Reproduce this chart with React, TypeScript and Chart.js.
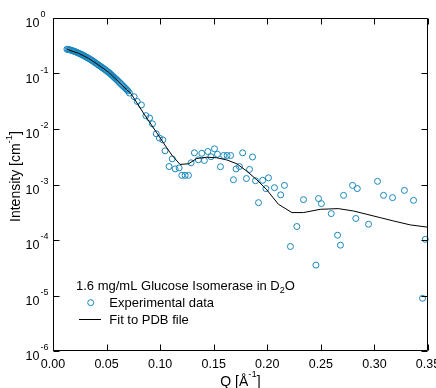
import React, { useEffect, useRef } from 'react';
import { Chart, registerables } from 'chart.js';

Chart.register(...registerables);

// Experimental data: Q [1/Å] and intensity [1/cm]
const qValues = [
  0.013, 0.014, 0.015, 0.016, 0.017, 0.018, 0.019, 0.02, 0.021, 0.022,
  0.023, 0.024, 0.025, 0.026, 0.027, 0.028, 0.029, 0.03, 0.031, 0.032,
  0.033, 0.034, 0.035, 0.036, 0.037, 0.038, 0.039, 0.04, 0.041, 0.042,
  0.043, 0.044, 0.045, 0.046, 0.047, 0.048, 0.049, 0.05, 0.051, 0.052,
  0.053, 0.054, 0.055, 0.056, 0.057, 0.058, 0.059, 0.06, 0.061, 0.062,
  0.063, 0.064, 0.065, 0.066, 0.067, 0.068, 0.069, 0.07,
  0.0713, 0.0757, 0.0786, 0.0825, 0.0867, 0.0901, 0.0928, 0.0964, 0.0993, 0.1025,
  0.1046, 0.1083, 0.1113, 0.114, 0.1177, 0.1202, 0.1233, 0.1264, 0.1289, 0.132,
  0.1357, 0.1389, 0.1413, 0.1445, 0.1474, 0.1507, 0.1535, 0.1563, 0.1593, 0.1625,
  0.1658, 0.1684, 0.1709, 0.174, 0.177, 0.1805, 0.1834, 0.1862, 0.189, 0.1918,
  0.1957, 0.1987, 0.2011, 0.2067, 0.2125, 0.216, 0.2216, 0.2276, 0.2338, 0.2454,
  0.2478, 0.2505, 0.2597, 0.2656, 0.2683, 0.2712, 0.2796, 0.2826, 0.284, 0.2945,
  0.3029, 0.3085, 0.3169, 0.328, 0.3365, 0.3449, 0.3475,
];
const intensityValues = [
  0.2735, 0.271, 0.2685, 0.2655, 0.2624, 0.2582, 0.2541, 0.25, 0.246, 0.2415,
  0.2366, 0.2323, 0.2275, 0.2228, 0.2183, 0.2133, 0.2084, 0.2032, 0.1982, 0.1936,
  0.1888, 0.1837, 0.1786, 0.1734, 0.1683, 0.1633, 0.1585, 0.1538, 0.1489, 0.1445,
  0.1403, 0.1358, 0.1318, 0.1276, 0.1236, 0.1197, 0.1156, 0.1119, 0.1081, 0.1042,
  0.1005, 0.0966, 0.0929, 0.0893, 0.0857, 0.0822, 0.0789, 0.0755, 0.0723, 0.069,
  0.0661, 0.0632, 0.0605, 0.0579, 0.0555, 0.0531, 0.0508, 0.0484,
  0.0445, 0.0382, 0.0314, 0.0271, 0.0174, 0.0158, 0.0124, 0.0082, 0.00687, 0.00637,
  0.00404, 0.00211, 0.0029, 0.00191, 0.00199, 0.00146, 0.00146, 0.00146, 0.00246, 0.00372,
  0.00279, 0.00365, 0.00271, 0.00393, 0.00317, 0.0044, 0.00351, 0.00209, 0.00333, 0.00333,
  0.00333, 0.00122, 0.00191, 0.00211, 0.00372, 0.00128, 0.00187, 0.00313, 0.00117, 0.000471,
  0.00119, 0.000844, 0.00132, 0.000877, 0.00065, 0.000964, 0.0000764, 0.000175, 0.000533, 0.0000353,
  0.000558, 0.000452, 0.000299, 0.000122, 0.0000807, 0.000637, 0.000964, 0.000244, 0.000844, 0.000192,
  0.00114, 0.000637, 0.00058, 0.000783, 0.000518, 0.0000089, 0.000103,
];

// Fit to PDB file
const fitQ = [
  0.0128, 0.0236, 0.033, 0.0423, 0.0517, 0.061, 0.0688, 0.0729, 0.0843, 0.0969,
  0.1062, 0.1112, 0.1186, 0.1264, 0.1342, 0.1436, 0.1529, 0.1622, 0.1716, 0.1809,
  0.1903, 0.1996, 0.2104, 0.223, 0.2338, 0.2494, 0.2662, 0.2805, 0.293, 0.3054,
  0.3179, 0.3335, 0.35,
];
const fitIntensity = [
  0.274, 0.232, 0.189, 0.143, 0.1062, 0.0718, 0.0509, 0.0432, 0.01945, 0.00851,
  0.00458, 0.00333, 0.0023, 0.00236, 0.00294, 0.0031, 0.00303, 0.00277, 0.00236, 0.00174,
  0.00121, 0.0008, 0.00044, 0.000312, 0.000312, 0.000357, 0.000368, 0.000333, 0.00029, 0.000253,
  0.00022, 0.000187, 0.00017,
];

// Axes
const xTickValues = [0, 0.05, 0.1, 0.15, 0.2, 0.25, 0.3, 0.35];
const xTickLabels = ['0.00', '0.05', '0.10', '0.15', '0.20', '0.25', '0.30', '0.35'];
const yTickExponents = [0, -1, -2, -3, -4, -5, -6];

const legendTitle = '1.6 mg/mL Glucose Isomerase in D';
const legendTitleSub = '2';
const legendTitleEnd = 'O';
const seriesNames = ['Experimental data', 'Fit to PDB file'];

const FONT = '"Liberation Sans", Arial, sans-serif';
const POINT_COLOR = 'rgb(22,134,188)';

const decorPlugin = {
  id: 'decor',
  afterDraw(chart: any) {
    const ctx = chart.ctx as CanvasRenderingContext2D;
    const a = chart.chartArea;
    const xs = chart.scales.x;
    const ys = chart.scales.y;
    ctx.save();
    ctx.strokeStyle = '#000';
    ctx.lineWidth = 1;
    // frame
    const L = Math.round(a.left) + 0.5;
    const R = Math.round(a.right) - 0.5;
    const T = Math.round(a.top) + 0.5;
    const B = Math.round(a.bottom) - 0.5;
    ctx.beginPath();
    ctx.moveTo(L, T);
    ctx.lineTo(R, T);
    ctx.lineTo(R, B);
    ctx.lineTo(L, B);
    ctx.closePath();
    ctx.stroke();
    // inward ticks
    ctx.beginPath();
    xTickValues.forEach((v) => {
      const px = Math.round(xs.getPixelForValue(v)) + 0.5;
      ctx.moveTo(px, B);
      ctx.lineTo(px, B - 6);
      ctx.moveTo(px, T);
      ctx.lineTo(px, T + 6);
    });
    yTickExponents.forEach((e) => {
      const py = Math.round(ys.getPixelForValue(Math.pow(10, e))) + 0.5;
      ctx.moveTo(L, py);
      ctx.lineTo(L + 6, py);
      ctx.moveTo(R, py);
      ctx.lineTo(R - 6, py);
    });
    ctx.stroke();

    ctx.fillStyle = '#000';
    // x tick labels
    ctx.font = `12.5px ${FONT}`;
    ctx.textAlign = 'center';
    ctx.textBaseline = 'alphabetic';
    xTickValues.forEach((v, i) => {
      const px = xs.getPixelForValue(v);
      ctx.fillText(xTickLabels[i], px, 368);
    });
    // y tick labels: 10^e
    yTickExponents.forEach((e) => {
      const py = ys.getPixelForValue(Math.pow(10, e));
      ctx.font = `12.5px ${FONT}`;
      ctx.textAlign = 'right';
      ctx.fillText('10', 39.5, py + 9);
      ctx.font = `9px ${FONT}`;
      ctx.textAlign = 'left';
      ctx.fillText(String(e), 40.5, py - 1);
    });

    // x title: Q [Å^-1]
    {
      const big = `14px ${FONT}`;
      const small = `9.5px ${FONT}`;
      ctx.font = big;
      const w1 = ctx.measureText('Q [Å').width;
      const w3 = ctx.measureText(']').width;
      ctx.font = small;
      const w2 = ctx.measureText('-1').width;
      const cx = (a.left + a.right) / 2;
      const x0 = cx - (w1 + w2 + w3) / 2;
      const base = 385.5;
      ctx.textAlign = 'left';
      ctx.font = big;
      ctx.fillText('Q [Å', x0, base);
      ctx.font = small;
      ctx.fillText('-1', x0 + w1, base - 8.5);
      ctx.font = big;
      ctx.fillText(']', x0 + w1 + w2, base);
    }
    // y title: Intensity [cm^-1]
    {
      const big = `14px ${FONT}`;
      const small = `9.5px ${FONT}`;
      ctx.font = big;
      const w1 = ctx.measureText('Intensity [cm').width;
      const w3 = ctx.measureText(']').width;
      ctx.font = small;
      const w2 = ctx.measureText('-1').width;
      ctx.save();
      ctx.translate(20, 176.5);
      ctx.rotate(-Math.PI / 2);
      const x0 = -(w1 + w2 + w3) / 2;
      ctx.textAlign = 'left';
      ctx.font = big;
      ctx.fillText('Intensity [cm', x0, 0);
      ctx.font = small;
      ctx.fillText('-1', x0 + w1, -8.5);
      ctx.font = big;
      ctx.fillText(']', x0 + w1 + w2, 0);
      ctx.restore();
    }

    // legend
    {
      const f = `13px ${FONT}`;
      ctx.font = f;
      ctx.textAlign = 'left';
      ctx.fillText(legendTitle, 76, 289.5);
      const w = ctx.measureText(legendTitle).width;
      ctx.font = `9px ${FONT}`;
      ctx.fillText(legendTitleSub, 76 + w, 292.5);
      const ws = ctx.measureText(legendTitleSub).width;
      ctx.font = f;
      ctx.fillText(legendTitleEnd, 76 + w + ws, 289.5);

      ctx.strokeStyle = POINT_COLOR;
      ctx.beginPath();
      ctx.arc(90.7, 302.7, 3, 0, Math.PI * 2);
      ctx.stroke();
      ctx.fillText(seriesNames[0], 109.3, 307);

      ctx.strokeStyle = '#000';
      ctx.beginPath();
      ctx.moveTo(79, 319.5);
      ctx.lineTo(101, 319.5);
      ctx.stroke();
      ctx.fillText(seriesNames[1], 109.3, 323.5);
    }
    ctx.restore();
  },
};

export default function App() {
  const ref = useRef<HTMLCanvasElement | null>(null);
  useEffect(() => {
    if (!ref.current) return;
    const chart = new Chart(ref.current, {
      type: 'scatter',
      data: {
        datasets: [
          {
            label: seriesNames[1],
            data: fitQ.map((q, i) => ({ x: q, y: fitIntensity[i] })),
            showLine: true,
            borderColor: '#000',
            borderWidth: 1,
            pointRadius: 0,
            tension: 0,
            order: 1,
          },
          {
            label: seriesNames[0],
            data: qValues.map((q, i) => ({ x: q, y: intensityValues[i] })),
            borderColor: POINT_COLOR,
            backgroundColor: 'rgba(0,0,0,0)',
            borderWidth: 1,
            pointRadius: 3,
            pointStyle: 'circle',
            showLine: false,
            order: 2,
            clip: 6,
          },
        ],
      },
      options: {
        animation: false,
        responsive: false,
        devicePixelRatio: 1,
        layout: { padding: { left: 53, top: 18, right: 8, bottom: 37 } },
        plugins: { legend: { display: false }, tooltip: { enabled: false } },
        scales: {
          x: { type: 'linear', min: 0, max: 0.35, display: false },
          y: { type: 'logarithmic', min: 1e-6, max: 1, display: false },
        },
      },
      plugins: [decorPlugin],
    });
    return () => chart.destroy();
  }, []);
  return (
    <div style={{ position: 'absolute', left: 0, top: 0, width: 436, height: 388, background: '#fff' }}>
      <canvas ref={ref} width={436} height={388} style={{ width: 436, height: 388, display: 'block' }} />
    </div>
  );
}
